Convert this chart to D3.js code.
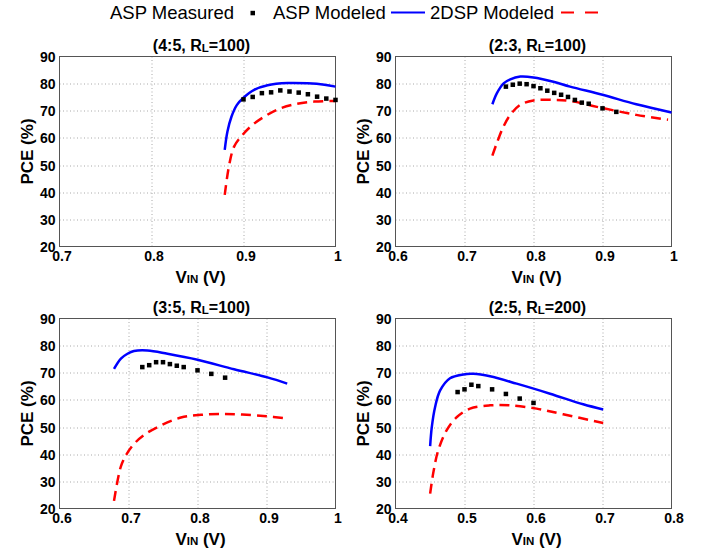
<!DOCTYPE html>
<html>
<head>
<meta charset="utf-8">
<script src="https://cdn.jsdelivr.net/npm/d3@7/dist/d3.min.js"></script>
<style>
  html, body { margin: 0; padding: 0; background: #fff; }
  svg { display: block; font-family: "Liberation Sans", Arial, sans-serif; }
</style>
</head>
<body>
<svg id="chart" width="711" height="553"></svg>
<script>
// ---- Data ----------------------------------------------------------------
const panelTitles = ["(4:5, R_L=100)", "(2:3, R_L=100)", "(3:5, R_L=100)", "(2:5, R_L=200)"];
const xDomains = [[0.7, 1.0], [0.6, 1.0], [0.6, 1.0], [0.4, 0.8]];
const xTickValues = [
  [0.7, 0.8, 0.9, 1.0],
  [0.6, 0.7, 0.8, 0.9, 1.0],
  [0.6, 0.7, 0.8, 0.9, 1.0],
  [0.4, 0.5, 0.6, 0.7, 0.8]
];
const yTickValues = [20, 30, 40, 50, 60, 70, 80, 90];

// (4:5, RL=100)
const vin45Meas = [0.90, 0.91, 0.92, 0.93, 0.94, 0.95, 0.96, 0.97, 0.98, 0.99, 1.00];
const pce45Meas = [74.2, 75.1, 76.5, 76.8, 77.5, 77.1, 76.7, 76.1, 75.2, 74.5, 74.0];
const vin45Asp = [0.8796, 0.8825, 0.8869, 0.8927, 0.900, 0.9116, 0.9262, 0.948, 0.9698, 0.988, 1.000];
const pce45Asp = [55.6, 62.3, 67.8, 72.1, 74.8, 77.7, 79.4, 80.2, 80.1, 79.6, 78.9];
const vin45Dsp = [0.8796, 0.8844, 0.8898, 0.8989, 0.9098, 0.9225, 0.9371, 0.9553, 0.9771, 1.000];
const pce45Dsp = [39.0, 50.0, 56.8, 61.1, 64.8, 67.8, 70.5, 72.4, 73.4, 73.6];

// (2:3, RL=100)
const vin23Meas = [0.76, 0.77, 0.78, 0.79, 0.80, 0.81, 0.82, 0.83, 0.84, 0.85, 0.86, 0.87, 0.88, 0.90, 0.92];
const pce23Meas = [78.9, 79.6, 80.0, 79.8, 79.1, 78.3, 77.4, 76.6, 75.9, 75.1, 74.0, 73.0, 72.6, 70.9, 69.6];
const vin23Asp = [0.7404, 0.747, 0.7567, 0.7663, 0.7808, 0.800, 0.8288, 0.853, 0.900, 0.949, 1.000];
const pce23Asp = [72.4, 76.5, 80.1, 81.6, 82.6, 82.3, 80.7, 78.9, 75.9, 72.4, 69.4];
const vin23Dsp = [0.7404, 0.747, 0.7567, 0.7663, 0.7808, 0.800, 0.829, 0.853, 0.900, 0.949, 0.995];
const pce23Dsp = [53.5, 58.2, 64.3, 68.5, 72.2, 73.8, 74.0, 73.6, 71.0, 68.5, 66.7];

// (3:5, RL=100)
const vin35Meas = [0.72, 0.73, 0.74, 0.75, 0.76, 0.77, 0.78, 0.80, 0.82, 0.84];
const pce35Meas = [72.1, 72.8, 73.9, 73.9, 73.2, 72.6, 72.1, 70.9, 69.6, 68.2];
const vin35Asp = [0.679, 0.689, 0.6985, 0.708, 0.7275, 0.7565, 0.800, 0.853, 0.9015, 0.930];
const pce35Asp = [71.4, 75.2, 77.0, 78.0, 78.2, 77.0, 74.8, 71.3, 68.3, 66.0];
const vin35Dsp = [0.679, 0.684, 0.689, 0.696, 0.707, 0.722, 0.747, 0.776, 0.805, 0.835, 0.865, 0.900, 0.926];
const pce35Dsp = [22.8, 30.0, 35.5, 39.5, 43.5, 47.0, 50.6, 53.5, 54.5, 54.8, 54.6, 54.0, 53.3];

// (2:5, RL=200)
const vin25Meas = [0.49, 0.50, 0.51, 0.52, 0.54, 0.56, 0.58, 0.60];
const pce25Meas = [62.9, 63.9, 65.6, 65.1, 63.9, 62.2, 60.5, 58.9];
const vin25Asp = [0.4502, 0.4526, 0.4574, 0.4647, 0.479, 0.4984, 0.513, 0.537, 0.5756, 0.624, 0.672, 0.701];
const pce25Asp = [43.0, 50.0, 57.4, 63.5, 68.0, 69.4, 69.6, 68.7, 66.0, 62.3, 58.4, 56.5];
const vin25Dsp = [0.4502, 0.455, 0.462, 0.474, 0.489, 0.508, 0.537, 0.566, 0.6046, 0.643, 0.701];
const pce25Dsp = [25.5, 33.5, 41.5, 48.8, 53.7, 56.8, 58.0, 58.0, 56.8, 54.7, 51.5];

const legendLabels = ["ASP Measured", "ASP Modeled", "2DSP Modeled"];

const panelSeries = [
  { meas: [vin45Meas, pce45Meas], asp: [vin45Asp, pce45Asp], dsp: [vin45Dsp, pce45Dsp] },
  { meas: [vin23Meas, pce23Meas], asp: [vin23Asp, pce23Asp], dsp: [vin23Dsp, pce23Dsp] },
  { meas: [vin35Meas, pce35Meas], asp: [vin35Asp, pce35Asp], dsp: [vin35Dsp, pce35Dsp] },
  { meas: [vin25Meas, pce25Meas], asp: [vin25Asp, pce25Asp], dsp: [vin25Dsp, pce25Dsp] }
];

// ---- Layout & style ------------------------------------------------------
const colLeft = [59.5, 395.5];
const rowTop = [56.5, 318.5];
const plotW = 276, plotH = 190;
const BLUE = "#0000ff", RED = "#ff0000";

const zip = (xs, ys) => xs.map((x, i) => [x, ys[i]]);
const svg = d3.select("#chart");
svg.append("rect").attr("width", 711).attr("height", 553).attr("fill", "#fff");

// helper: text with one subscript part ("R_L=100" -> R, L subscript, =100)
function subText(sel, str, subSize) {
  const m = str.match(/^(.*?)_(\w)(.*)$/);
  if (!m) { sel.text(str); return sel; }
  sel.append("tspan").text(m[1]);
  sel.append("tspan").attr("font-size", subSize).attr("dy", 1).text(m[2]);
  sel.append("tspan").attr("dy", -1).text(m[3]);
  return sel;
}

panelSeries.forEach((series, i) => {
  const col = i % 2, row = Math.floor(i / 2);
  const x0 = colLeft[col], y0 = rowTop[row];
  const g = svg.append("g").attr("transform", `translate(${x0},${y0})`);

  const x = d3.scaleLinear().domain(xDomains[i]).range([0, plotW]);
  const y = d3.scaleLinear().domain([20, 90]).range([plotH, 0]);

  // dotted grid
  const grid = g.append("g").attr("stroke", "#a8a8a8").attr("stroke-width", 1)
    .attr("stroke-dasharray", "1,2.5");
  grid.selectAll("line.v").data(xTickValues[i].slice(1, -1)).join("line")
    .attr("x1", d => Math.round(x(d)) + 0.5).attr("x2", d => Math.round(x(d)) + 0.5)
    .attr("y1", 0).attr("y2", plotH);
  grid.selectAll("line.h").data(yTickValues.slice(1, -1)).join("line")
    .attr("y1", d => Math.round(y(d)) + 0.5).attr("y2", d => Math.round(y(d)) + 0.5)
    .attr("x1", 0).attr("x2", plotW);

  // axes with bold tick labels
  const fmt = d => (d === 1 ? "1" : d3.format(".1f")(d));
  const xAxis = g.append("g").attr("transform", `translate(0,${plotH})`)
    .call(d3.axisBottom(x).tickValues(xTickValues[i]).tickFormat(fmt).tickSize(0).tickPadding(5));
  const yAxis = g.append("g")
    .call(d3.axisLeft(y).tickValues(yTickValues).tickSize(0).tickPadding(4));
  [xAxis, yAxis].forEach(a => {
    a.select(".domain").remove();
    a.selectAll("text").attr("font-family", "'Liberation Sans', Arial, sans-serif")
      .attr("font-size", 14).attr("font-weight", "bold").attr("fill", "#000");
  });
  xAxis.selectAll("text").attr("dx", 2);
  yAxis.selectAll("text").attr("dy", "0.36em");

  // plot box
  g.append("rect").attr("x", 0).attr("y", 0).attr("width", plotW).attr("height", plotH)
    .attr("fill", "none").attr("stroke", "#555").attr("stroke-width", 1);

  // series
  const line = d3.line().x(d => x(d[0])).y(d => y(d[1])).curve(d3.curveCatmullRom.alpha(0.5));
  g.append("path").datum(zip(...series.dsp)).attr("d", line)
    .attr("fill", "none").attr("stroke", RED).attr("stroke-width", 2.5)
    .attr("stroke-dasharray", "10,6");
  g.append("path").datum(zip(...series.asp)).attr("d", line)
    .attr("fill", "none").attr("stroke", BLUE).attr("stroke-width", 2.5);
  const sq = 4.5;
  g.selectAll("rect.pt").data(zip(...series.meas)).join("rect")
    .attr("x", d => x(d[0]) - sq / 2).attr("y", d => y(d[1]) - sq / 2)
    .attr("width", sq).attr("height", sq).attr("fill", "#000");

  // title
  subText(g.append("text").attr("x", plotW / 2 + 4).attr("y", -6)
    .attr("text-anchor", "middle").attr("font-size", 16).attr("font-weight", "bold"),
    panelTitles[i], 11.5);

  // axis labels
  const xl = g.append("text").attr("x", plotW / 2 + 3).attr("y", plotH + 36)
    .attr("text-anchor", "middle").attr("font-size", 17).attr("font-weight", "bold");
  xl.append("tspan").text("V");
  xl.append("tspan").attr("font-size", 11.5).text("IN");
  xl.append("tspan").text(" (V)");

  g.append("text").attr("transform", `translate(-27,${plotH / 2}) rotate(-90)`)
    .attr("text-anchor", "middle").attr("font-size", 17).attr("font-weight", "bold")
    .text("PCE (%)");
});

// ---- Legend --------------------------------------------------------------
const leg = svg.append("g").attr("font-size", 18.5).attr("fill", "#000");
leg.append("text").attr("x", 110).attr("y", 19).text(legendLabels[0]);
leg.append("rect").attr("x", 250.5).attr("y", 10.8).attr("width", 4.5).attr("height", 4.5).attr("fill", "#000");
leg.append("text").attr("x", 273).attr("y", 19).text(legendLabels[1]);
leg.append("line").attr("x1", 391).attr("x2", 425).attr("y1", 12.5).attr("y2", 12.5)
  .attr("stroke", BLUE).attr("stroke-width", 2);
leg.append("text").attr("x", 430).attr("y", 19).text(legendLabels[2]);
leg.append("line").attr("x1", 561).attr("x2", 598).attr("y1", 12.5).attr("y2", 12.5)
  .attr("stroke", RED).attr("stroke-width", 2).attr("stroke-dasharray", "13,11");
</script>
</body>
</html>
